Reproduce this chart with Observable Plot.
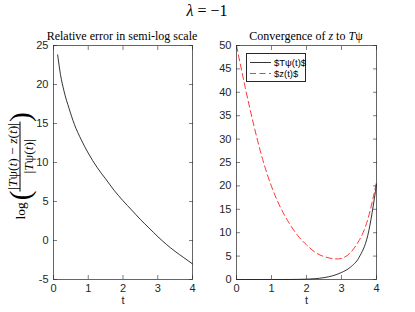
<!DOCTYPE html>
<html><head><meta charset="utf-8">
<script src="https://cdn.jsdelivr.net/npm/d3@7"></script>
<script src="https://cdn.jsdelivr.net/npm/@observablehq/plot@0.6"></script>
<style>
body{margin:0;background:#fff;}
#wrap{position:relative;width:415px;height:312px;overflow:hidden;font-family:"Liberation Serif","Times New Roman",serif;color:#000;}
.abs{position:absolute;}
.plot{position:absolute;top:0;}
.ttl{position:absolute;white-space:nowrap;transform:translateX(-50%);font-size:12px;}
</style></head><body><div id="wrap"></div>
<script>
// Left panel: log relative error
const tErr = [0.12, 0.2, 0.3, 0.45, 0.6, 0.8, 1.0, 1.25, 1.5, 1.75, 2.0, 2.25, 2.5, 2.75, 3.0, 3.25, 3.5, 3.75, 4.0];
const logErr = [23.8, 21.3, 19.2, 16.9, 14.9, 12.9, 11.2, 9.4, 7.9, 6.4, 5.1, 3.9, 2.7, 1.6, 0.5, -0.5, -1.4, -2.2, -3.0];
// Right panel: convergence
const tConv = [0, 0.25, 0.5, 0.75, 1.0, 1.25, 1.5, 1.75, 2.0, 2.25, 2.5, 2.75, 3.0, 3.25, 3.5, 3.75, 4.0];
const Tpsi = [0, 0, 0, 0, 0, 0.001, 0.005, 0.02, 0.07, 0.18, 0.4, 0.8, 1.5, 2.6, 4.7, 9.4, 20.3];
const zVals = [50, 41.0, 32.8, 25.6, 19.9, 15.5, 12.1, 9.4, 7.4, 5.8, 4.9, 4.45, 4.5, 5.7, 8.3, 12.8, 20.8];
const xTicks = [0, 1, 2, 3, 4];
const yTicksErr = [-5, 0, 5, 10, 15, 20, 25];
const yTicksConv = [0, 5, 10, 15, 20, 25, 30, 35, 40, 45, 50];
const legendLabels = ["$T\u03C8(t)$", "$z(t)$"];

const ink = "#262626";
const sans = "'Liberation Sans', Arial, Helvetica, sans-serif";

function axes(yt) {
  const common = {tickSize: -4, stroke: ink, strokeWidth: 0.6};
  return [
    Plot.frame({stroke: ink, strokeWidth: 0.7}),
    Plot.axisX({...common, anchor: "bottom", ticks: xTicks, tickFormat: d => d, tickPadding: 9, label: null, fill: ink}),
    Plot.axisX({...common, anchor: "top", ticks: xTicks, tickFormat: () => "", label: null}),
    Plot.axisY({...common, anchor: "left", ticks: yt, tickFormat: d => d, tickPadding: 9, label: null, fill: ink}),
    Plot.axisY({...common, anchor: "right", ticks: yt, tickFormat: () => "", label: null}),
    Plot.text(["t"], {frameAnchor: "bottom", dy: 24, fill: ink, fontSize: 11})
  ];
}

const errData = tErr.map((t, i) => ({t, v: logErr[i]}));
const convT = tConv.map((t, i) => ({t, v: Tpsi[i]}));
const convZ = tConv.map((t, i) => ({t, v: zVals[i]}));

const left = Plot.plot({
  width: 200, height: 312,
  marginLeft: 53, marginRight: 8, marginTop: 45, marginBottom: 33,
  style: {fontFamily: sans, fontSize: "11px", background: "transparent", color: ink},
  x: {domain: [0, 4]}, y: {domain: [-5, 25]},
  marks: [
    Plot.line(errData, {x: "t", y: "v", stroke: "#000", strokeWidth: 0.8, curve: "monotone-x"}),
    ...axes(yTicksErr)
  ]
});
left.classList.add("plot");
left.style.left = "0px";

const right = Plot.plot({
  width: 215, height: 312,
  marginLeft: 36, marginRight: 39, marginTop: 45, marginBottom: 33,
  style: {fontFamily: sans, fontSize: "11px", background: "transparent", color: ink},
  x: {domain: [0, 4]}, y: {domain: [0, 50]},
  marks: [
    Plot.line(convT, {x: "t", y: "v", stroke: "#000", strokeWidth: 0.8, curve: "monotone-x"}),
    Plot.line(convZ, {x: "t", y: "v", stroke: "#ff0000", strokeWidth: 0.8, strokeDasharray: "6,3.5", curve: "natural"}),
    ...axes(yTicksConv)
  ]
});
right.classList.add("plot");
right.style.left = "200px";

const wrap = document.getElementById("wrap");
wrap.appendChild(left);
wrap.appendChild(right);

function addHTML(html) { const d = document.createElement("div"); d.innerHTML = html; while (d.firstChild) wrap.appendChild(d.firstChild); }

addHTML(`<div class="ttl" style="left:207px;top:2px;font-size:16px;"><i>λ</i> = −1</div>`);
addHTML(`<div class="ttl" style="left:122px;top:29px;">Relative error in semi-log scale</div>`);
addHTML(`<div class="ttl" style="left:306px;top:29px;">Convergence of <i>z</i> to <i>T</i>ψ</div>`);

// rotated y label for left panel
addHTML(`<div class="abs" style="left:20px;top:166px;transform:translate(-50%,-50%) rotate(-90deg);display:flex;align-items:center;white-space:nowrap;font-size:13.5px;">
  <span style="margin-right:2px;">log</span>
  <span style="font-size:29px;display:inline-block;font-weight:100;line-height:29px;">(</span>
  <span style="display:inline-flex;flex-direction:column;align-items:center;line-height:13px;">
    <span style="padding:0 1px 1px;">|<i>T</i>ψ(<i>t</i>) − <i>z</i>(<i>t</i>)|</span>
    <span style="border-top:0.8px solid #000;padding:1px 1px 0;width:100%;text-align:center;">|<i>T</i>ψ(<i>t</i>)|</span>
  </span>
  <span style="font-size:29px;display:inline-block;line-height:29px;">)</span>
</div>`);

// legend
addHTML(`<div class="abs" style="left:246px;top:53px;width:60px;height:29px;border:0.7px solid ${ink};background:#fff;box-sizing:border-box;font-family:${sans};font-size:9.5px;color:#000;">
  <svg class="abs" style="left:0;top:0" width="60" height="29">
    <line x1="3" x2="24" y1="8.5" y2="8.5" stroke="#000" stroke-width="0.8"/>
    <line x1="3" x2="24" y1="19.5" y2="19.5" stroke="#ff0000" stroke-width="0.8" stroke-dasharray="6,3.5"/>
  </svg>
  <div class="abs" style="left:27px;top:2.5px;">${legendLabels[0]}</div>
  <div class="abs" style="left:27px;top:13.5px;">${legendLabels[1]}</div>
</div>`);
</script>
</body></html>
